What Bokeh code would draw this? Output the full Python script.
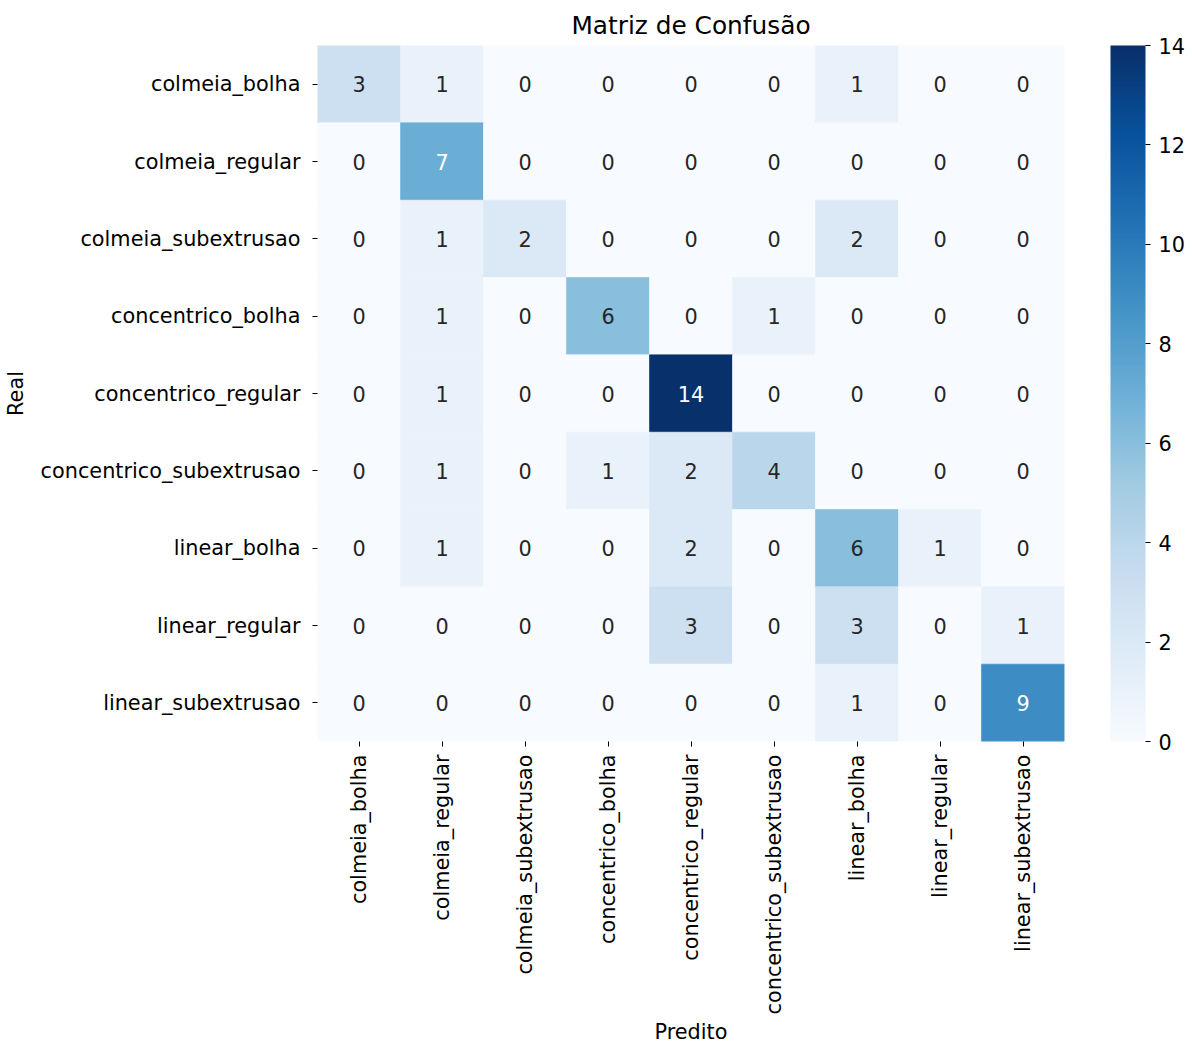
import math
import numpy as np
from bokeh.plotting import figure
from bokeh.models import ColumnDataSource, LinearColorMapper, ColorBar, FixedTicker
from bokeh.embed import file_html
from bokeh.resources import INLINE
from bokeh.core.properties import value

# Class labels (rows = real, columns = predicted)
classes = [
    "colmeia_bolha",
    "colmeia_regular",
    "colmeia_subextrusao",
    "concentrico_bolha",
    "concentrico_regular",
    "concentrico_subextrusao",
    "linear_bolha",
    "linear_regular",
    "linear_subextrusao",
]

# Confusion-matrix counts, one list per real class
row_colmeia_bolha = [3, 1, 0, 0, 0, 0, 1, 0, 0]
row_colmeia_regular = [0, 7, 0, 0, 0, 0, 0, 0, 0]
row_colmeia_subextrusao = [0, 1, 2, 0, 0, 0, 2, 0, 0]
row_concentrico_bolha = [0, 1, 0, 6, 0, 1, 0, 0, 0]
row_concentrico_regular = [0, 1, 0, 0, 14, 0, 0, 0, 0]
row_concentrico_subextrusao = [0, 1, 0, 1, 2, 4, 0, 0, 0]
row_linear_bolha = [0, 1, 0, 0, 2, 0, 6, 1, 0]
row_linear_regular = [0, 0, 0, 0, 3, 0, 3, 0, 1]
row_linear_subextrusao = [0, 0, 0, 0, 0, 0, 1, 0, 9]

counts = [
    row_colmeia_bolha,
    row_colmeia_regular,
    row_colmeia_subextrusao,
    row_concentrico_bolha,
    row_concentrico_regular,
    row_concentrico_subextrusao,
    row_linear_bolha,
    row_linear_regular,
    row_linear_subextrusao,
]

colorbar_ticks = [0, 2, 4, 6, 8, 10, 12, 14]
vmin, vmax = 0, 14

# "Blues" sequential ramp, interpolated to 256 steps
anchors = ["#f7fbff", "#deebf7", "#c6dbef", "#9ecae1", "#6baed6",
           "#4292c6", "#2171b5", "#08519c", "#08306b"]
anc = np.array([[int(h[i:i + 2], 16) for i in (1, 3, 5)] for h in anchors], float)
pos = np.linspace(0, 1, len(anchors))
t = np.linspace(0, 1, 256)
rgb = np.stack([np.interp(t, pos, anc[:, k]) for k in range(3)], axis=1)
palette = ["#%02x%02x%02x" % tuple(int(round(c)) for c in row) for row in rgb]


def rel_lum(hex_color):
    vals = []
    for i in (1, 3, 5):
        c = int(hex_color[i:i + 2], 16) / 255
        vals.append(c / 12.92 if c <= 0.03928 else ((c + 0.055) / 1.055) ** 2.4)
    return 0.2126 * vals[0] + 0.7152 * vals[1] + 0.0722 * vals[2]


xs, ys, vals, labels, text_colors = [], [], [], [], []
for i, real in enumerate(classes):
    for j, pred in enumerate(classes):
        v = counts[i][j]
        xs.append(pred)
        ys.append(real)
        vals.append(v)
        labels.append(str(v))
        idx = min(int((v - vmin) / (vmax - vmin) * 256), 255)
        text_colors.append("#262626" if rel_lum(palette[idx]) > 0.408 else "#ffffff")

src = ColumnDataSource(dict(pred=xs, real=ys, count=vals, label=labels, tcolor=text_colors))
mapper = LinearColorMapper(palette=palette, low=vmin, high=vmax)

FONT = "DejaVu Sans"
LABEL_SIZE = "20.8px"

p = figure(
    x_range=classes,
    y_range=list(reversed(classes)),
    frame_width=747,
    frame_height=696,
    min_border_left=316,
    min_border_top=45,
    min_border_bottom=0,
    min_border_right=128,
    title="Matriz de Confusão",
    output_backend="svg",
    toolbar_location=None,
    tools="",
)

p.rect(x="pred", y="real", width=1, height=1, source=src,
       fill_color={"field": "count", "transform": mapper},
       line_color={"field": "count", "transform": mapper}, line_width=0.6)

p.text(x="pred", y="real", text="label", source=src,
       text_align="center", text_baseline="middle",
       text_font=value(FONT), text_font_size=LABEL_SIZE, text_color="tcolor")

p.grid.visible = False
p.outline_line_color = None
p.background_fill_color = "white"

p.title.text_font = FONT
p.title.text_font_size = "24.8px"
p.title.text_font_style = "normal"
p.title.align = "center"
p.title.text_color = "#000000"
p.title.standoff = 11

for ax in (p.xaxis[0], p.yaxis[0]):
    ax.axis_line_color = None
    ax.major_tick_out = 5
    ax.major_tick_in = 0
    ax.major_tick_line_color = "#000000"
    ax.major_label_standoff = 12
    ax.major_label_text_font = FONT
    ax.major_label_text_font_size = LABEL_SIZE
    ax.major_label_text_color = "#000000"
    ax.axis_label_text_font = FONT
    ax.axis_label_text_font_size = LABEL_SIZE
    ax.axis_label_text_font_style = "normal"
    ax.axis_label_text_color = "#000000"

p.xaxis.axis_label = "Predito"
p.yaxis.axis_label = "Real"
p.xaxis.major_label_orientation = math.pi / 2
p.xaxis.major_label_standoff = 8
p.xaxis.axis_label_standoff = 3
p.yaxis.axis_label_standoff = 10

cb = ColorBar(
    color_mapper=mapper,
    ticker=FixedTicker(ticks=colorbar_ticks),
    width=35,
    height=696,
    location=(46, 0),
    margin=0,
    padding=0,
    bar_line_color=None,
    border_line_color=None,
    background_fill_color=None,
    major_tick_out=5,
    major_tick_in=0,
    major_tick_line_color="#000000",
    minor_tick_line_color=None,
    label_standoff=8,
    major_label_text_font=FONT,
    major_label_text_font_size=LABEL_SIZE,
    major_label_text_color="#000000",
)
p.add_layout(cb, "right")

with open("out.html", "w") as f:
    f.write(file_html(p, INLINE))
